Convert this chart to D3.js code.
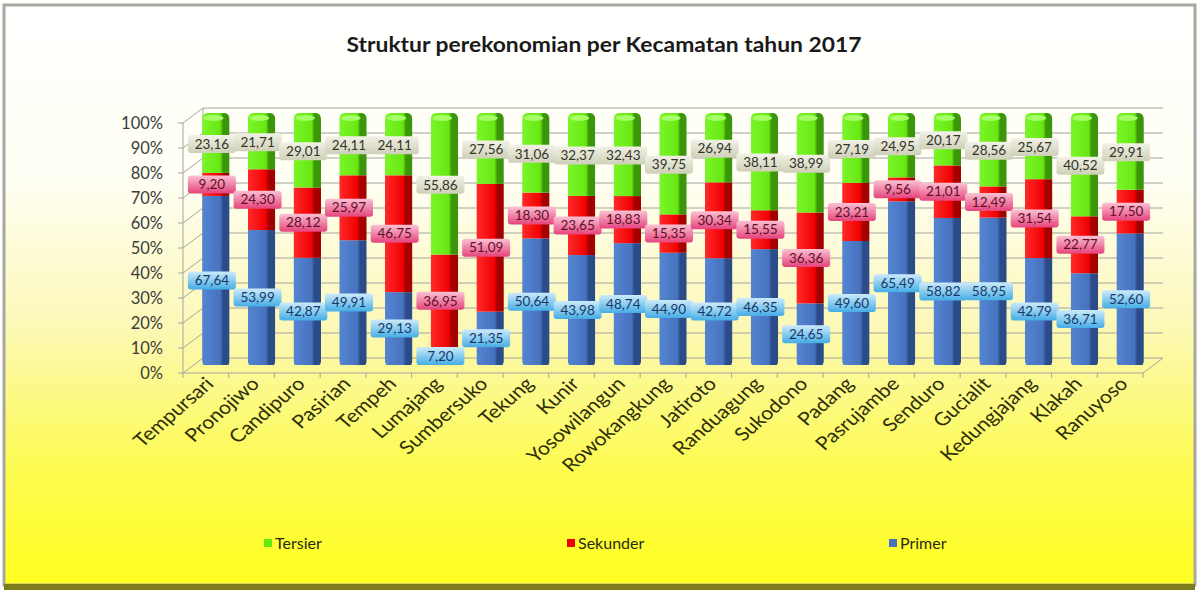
<!DOCTYPE html>
<meta charset="utf-8">
<style>
body { margin: 0; }
svg { display: block; font-family: Lato, "Open Sans", sans-serif; }
.ytick { font-size: 16.5px; fill: #3c3c3c; }
.xlab { font-size: 18.5px; fill: #2e2e08; }
.lab { font-size: 13.5px; }
.legend text { font-size: 16px; fill: #2a2a10; }
</style>
<body>
<div id="chart"></div>
<script src="https://cdn.jsdelivr.net/npm/d3@7"></script>
<script>
var kecamatan = ["Tempursari", "Pronojiwo", "Candipuro", "Pasirian", "Tempeh", "Lumajang", "Sumbersuko",
    "Tekung", "Kunir", "Yosowilangun", "Rowokangkung", "Jatiroto", "Randuagung", "Sukodono", "Padang",
    "Pasrujambe", "Senduro", "Gucialit", "Kedungjajang", "Klakah", "Ranuyoso"];
var primer   = [67.64, 53.99, 42.87, 49.91, 29.13, 7.20, 21.35, 50.64, 43.98, 48.74, 44.90, 42.72, 46.35, 24.65, 49.60, 65.49, 58.82, 58.95, 42.79, 36.71, 52.60];
var sekunder = [9.20, 24.30, 28.12, 25.97, 46.75, 36.95, 51.09, 18.30, 23.65, 18.83, 15.35, 30.34, 15.55, 36.36, 23.21, 9.56, 21.01, 12.49, 31.54, 22.77, 17.50];
var tersier  = [23.16, 21.71, 29.01, 24.11, 24.11, 55.86, 27.56, 31.06, 32.37, 32.43, 39.75, 26.94, 38.11, 38.99, 27.19, 24.95, 20.17, 28.56, 25.67, 40.52, 29.91];
var seriesKeys = ["primer", "sekunder", "tersier"];
var legendNames = ["Tersier", "Sekunder", "Primer"];
var yTickValues = [0, 10, 20, 30, 40, 50, 60, 70, 80, 90, 100];
var title = "Struktur perekonomian per Kecamatan tahun 2017";

var W = 1199, H = 592;
// depth offsets of the fake 3d box
var bar3d = { dx: 10, dy: -8 }, back3d = { dx: 20, dy: -15 };

var colors = {
    primer:   { light: "#5585d2", base: "#4672be", dark: "#2b4c88", lab0: "#cdebfb", lab1: "#45ade6", text: "#1b3766" },
    sekunder: { light: "#ff2a2a", base: "#f00000", dark: "#a30000", lab0: "#fbc2d4", lab1: "#e5437c", text: "#5e1028" },
    tersier:  { light: "#7cf52a", base: "#66e812", dark: "#3c960a", lab0: "#f1f1e6", lab1: "#cfd0b8", text: "#333328" }
};

var rows = kecamatan.map(function(k, i) {
    return { name: k, primer: primer[i], sekunder: sekunder[i], tersier: tersier[i] };
});
var layers = d3.stack().keys(seriesKeys)(rows);

var x = d3.scaleBand().domain(kecamatan).range([183, 1143]);
var y = d3.scaleLinear().domain([0, 100]).range([373, 123]);
var bw = x.bandwidth() * 0.6;
var fmt = function(v) { return d3.format(".2f")(v).replace(".", ","); };

var svg = d3.select("#chart").append("svg").attr("width", W).attr("height", H);
var defs = svg.append("defs");

var bg = defs.append("linearGradient").attr("id", "bg").attr("x1", 0).attr("y1", 0).attr("x2", 0).attr("y2", 1);
bg.append("stop").attr("offset", 0).attr("stop-color", "#ffffff");
bg.append("stop").attr("offset", 0.3).attr("stop-color", "#fffff4");
bg.append("stop").attr("offset", 0.55).attr("stop-color", "#fcf8b8");
bg.append("stop").attr("offset", 0.8).attr("stop-color", "#fdfb50");
bg.append("stop").attr("offset", 1).attr("stop-color", "#ffff20");

seriesKeys.forEach(function(k) {
    var c = colors[k];
    var g = defs.append("linearGradient").attr("id", "bar-" + k).attr("x1", 0).attr("x2", 1).attr("y1", 0).attr("y2", 0);
    g.append("stop").attr("offset", 0).attr("stop-color", c.light);
    g.append("stop").attr("offset", 0.66).attr("stop-color", c.base);
    g.append("stop").attr("offset", 0.76).attr("stop-color", c.dark);
    g.append("stop").attr("offset", 1).attr("stop-color", c.dark);
    var l = defs.append("linearGradient").attr("id", "lab-" + k).attr("x1", 0).attr("x2", 0).attr("y1", 0).attr("y2", 1);
    l.append("stop").attr("offset", 0).attr("stop-color", c.lab0);
    l.append("stop").attr("offset", 1).attr("stop-color", c.lab1);
});

// background + frame
svg.append("rect").attr("x", 0).attr("y", 0).attr("width", W).attr("height", H).attr("fill", "#ffffff");
svg.append("rect").attr("x", 4).attr("y", 5).attr("width", W - 8).attr("height", H - 12)
    .attr("fill", "url(#bg)").attr("stroke", "#a8a8a0").attr("stroke-width", 3);
svg.append("rect").attr("x", 4).attr("y", H - 8).attr("width", W - 8).attr("height", 6).attr("fill", "#7c7c1c");

svg.append("text").attr("x", 604).attr("y", 52).attr("text-anchor", "middle")
    .attr("font-size", 20).attr("font-weight", "bold").attr("fill", "#1a1a1a")
    .attr("textLength", 515).attr("lengthAdjust", "spacingAndGlyphs")
    .text(title);

// walls and gridlines
var grid = svg.append("g").attr("stroke", "#a4a4a0").attr("fill", "none");
var xl = x.range()[0], xr = x.range()[1];
grid.selectAll(".gl").data(yTickValues).enter().append("path")
    .attr("d", function(v) {
        return "M" + (xl - 5) + "," + y(v) + "L" + xl + "," + y(v) +
            "L" + (xl + back3d.dx) + "," + (y(v) + back3d.dy) +
            "L" + (xr + back3d.dx) + "," + (y(v) + back3d.dy);
    });
grid.append("path").attr("d", "M" + xl + "," + y(0) + "L" + xl + "," + y(100));
grid.append("path").attr("d", "M" + (xl + back3d.dx) + "," + (y(0) + back3d.dy) + "L" + (xl + back3d.dx) + "," + (y(100) + back3d.dy));
grid.append("path").attr("d", "M" + xl + "," + y(0) + "L" + xr + "," + y(0) +
    "L" + (xr + back3d.dx) + "," + (y(0) + back3d.dy));
grid.selectAll(".xt").data(kecamatan.concat([null])).enter().append("path")
    .attr("d", function(d) {
        var xx = d === null ? xr : x(d);
        return "M" + xx + "," + y(0) + "L" + xx + "," + (y(0) + 5);
    });

svg.append("g").selectAll("text").data(yTickValues).enter().append("text")
    .attr("class", "ytick").attr("x", 163).attr("y", function(v) { return y(v); })
    .attr("dy", "0.35em").attr("text-anchor", "end")
    .text(function(v) { return v + "%"; });

// bars
var barX = function(name) { return x(name) + (x.bandwidth() - bw) / 2 + bar3d.dx; };
var yb = function(v) { return y(v) + bar3d.dy; };

kecamatan.forEach(function(k, i) {
    defs.append("clipPath").attr("id", "clip" + i).append("rect")
        .attr("x", barX(k)).attr("y", yb(100) - 2).attr("width", bw).attr("height", yb(0) - yb(100) + 4)
        .attr("rx", 5).attr("ry", 6);
});

var barG = svg.append("g");
layers.forEach(function(layer) {
    barG.append("g").selectAll("rect").data(layer).enter().append("rect")
        .attr("clip-path", function(d, i) { return "url(#clip" + i + ")"; })
        .attr("x", function(d) { return barX(d.data.name); })
        .attr("y", function(d) { return yb(d[1]) - (layer.key === "tersier" ? 2 : 0); })
        .attr("width", bw)
        .attr("height", function(d) { return yb(d[0]) - yb(d[1]) + (layer.key === "tersier" ? 2 : 0); })
        .attr("fill", "url(#bar-" + layer.key + ")");
});
// top caps
barG.append("g").selectAll("ellipse").data(kecamatan).enter().append("ellipse")
    .attr("cx", function(d) { return barX(d) + bw * 0.42; })
    .attr("cy", yb(100) + 3)
    .attr("rx", bw * 0.36).attr("ry", 3)
    .attr("fill", "#a6ff66");

// data labels
var labG = svg.append("g");
layers.forEach(function(layer) {
    var key = layer.key;
    var g = labG.append("g").selectAll("g").data(layer).enter().append("g")
        .attr("transform", function(d) {
            return "translate(" + (barX(d.data.name) + bw / 2 - 4) + "," + yb((d[0] + d[1]) / 2) + ")";
        });
    g.append("rect").attr("x", -24).attr("y", -9).attr("width", 48).attr("height", 18).attr("rx", 3)
        .attr("fill", "url(#lab-" + key + ")");
    g.append("text").attr("class", "lab").attr("text-anchor", "middle").attr("dy", "0.35em")
        .attr("fill", colors[key].text)
        .text(function(d) { return fmt(d[1] - d[0]); });
});

// category labels, stretched like the source image
svg.append("g").selectAll("text").data(kecamatan).enter().append("text")
    .attr("class", "xlab")
    .attr("text-anchor", "end")
    .attr("transform", function(d) {
        return "translate(" + (x(d) + x.bandwidth() / 2 + 9) + ",385) scale(1.15,1) rotate(-45)";
    })
    .text(function(d) { return d; });

// legend
var legendX = [264, 567, 889];
var legendKeys = ["tersier", "sekunder", "primer"];
var lg = svg.append("g").attr("class", "legend").selectAll("g").data(legendNames).enter().append("g")
    .attr("transform", function(d, i) { return "translate(" + legendX[i] + ",543)"; });
lg.append("rect").attr("x", 0).attr("y", -4).attr("width", 8).attr("height", 8)
    .attr("fill", function(d, i) { return colors[legendKeys[i]].base; });
lg.append("text").attr("x", 11).attr("dy", "0.35em").text(function(d) { return d; });
</script>
</body>
